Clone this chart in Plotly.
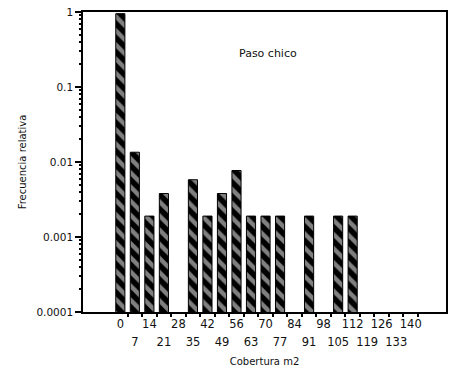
import plotly.graph_objects as go

# Cover classes (m2) and relative frequency per class; empty classes are None
cobertura = [0, 7, 14, 21, 28, 35, 42, 49, 56, 63, 70, 77, 84, 91, 98, 105, 112, 119, 126, 133, 140]
frecuencia = [0.95, 0.0135, 0.0019, 0.0038, None, 0.0058, 0.0019, 0.0038, 0.0077, 0.0019,
              0.0019, 0.0019, None, 0.0019, None, 0.0019, 0.0019, None, None, None, None]

y_tickvals = [1, 0.1, 0.01, 0.001, 0.0001]
y_ticktext = ["1", "0.1", "0.01", "0.001", "0.0001"]
y_minor_vals = [m * 10.0 ** e for e in range(-4, 0) for m in range(2, 10)]

# Alternate category labels between two rows
x_top_vals = cobertura[0::2]
x_bottom_vals = cobertura[1::2]
x_boundaries = [c + 3.5 for c in cobertura]

font_family = "DejaVu Sans"
ink = "black"
x_range = [-18, 157]
y_range = [-4, 0]

fig = go.Figure()
fig.add_trace(go.Bar(
    x=cobertura,
    y=frecuencia,
    width=4.4,
    marker=dict(
        color="black",
        line=dict(color="black", width=1),
        pattern=dict(shape="\\", bgcolor="black", fgcolor="white", size=10, solidity=0.45),
    ),
    showlegend=False,
))

# Helper traces so the overlaid axes (second label row, boundary ticks, minor y ticks) get drawn
fig.add_trace(go.Scatter(x=[None], y=[None], xaxis="x2", yaxis="y", showlegend=False))
fig.add_trace(go.Scatter(x=[None], y=[None], xaxis="x3", yaxis="y", showlegend=False))
fig.add_trace(go.Scatter(x=[None], y=[None], xaxis="x", yaxis="y2", showlegend=False))

no_grid = dict(showgrid=False, zeroline=False)

fig.update_layout(
    width=450,
    height=375,
    margin=dict(l=83, r=2, t=12, b=63),
    plot_bgcolor="white",
    paper_bgcolor="white",
    font=dict(family=font_family, size=11, color="#111111"),
    xaxis=dict(
        range=x_range,
        tickmode="array",
        tickvals=x_top_vals,
        ticktext=[str(v) for v in x_top_vals],
        ticks="",
        tickangle=0,
        showline=True,
        linecolor=ink,
        linewidth=1.5,
        mirror=True,
        tickfont=dict(size=11.5),
        title=dict(text="Cobertura m2", font=dict(size=10), standoff=28),
        **no_grid,
    ),
    xaxis2=dict(
        range=x_range,
        overlaying="x",
        side="bottom",
        anchor="y",
        tickmode="array",
        tickvals=x_bottom_vals,
        ticktext=[str(v) for v in x_bottom_vals],
        ticks="",
        tickangle=0,
        ticklabelstandoff=21,
        showline=False,
        tickfont=dict(size=11.5),
        **no_grid,
    ),
    xaxis3=dict(
        range=x_range,
        overlaying="x",
        side="bottom",
        anchor="y",
        tickmode="array",
        tickvals=x_boundaries,
        ticks="outside",
        ticklen=4,
        tickwidth=1.5,
        tickcolor=ink,
        showticklabels=False,
        showline=False,
        **no_grid,
    ),
    yaxis=dict(
        type="log",
        range=y_range,
        tickmode="array",
        tickvals=y_tickvals,
        ticktext=y_ticktext,
        ticks="outside",
        ticklen=6,
        tickwidth=1.5,
        tickcolor=ink,
        showline=True,
        linecolor=ink,
        linewidth=1.5,
        mirror=True,
        tickfont=dict(size=10.5),
        title=dict(text="Frecuencia relativa", font=dict(size=10), standoff=8),
        **no_grid,
    ),
    yaxis2=dict(
        type="log",
        range=y_range,
        overlaying="y",
        side="left",
        anchor="x",
        tickmode="array",
        tickvals=y_minor_vals,
        ticks="outside",
        ticklen=3,
        tickwidth=1.5,
        tickcolor=ink,
        showticklabels=False,
        showline=False,
        **no_grid,
    ),
    annotations=[
        dict(text="Paso chico", x=0.51, y=0.89, xref="paper", yref="paper",
             showarrow=False, font=dict(size=11, color="#111111")),
    ],
)

fig.write_html("out.html")
